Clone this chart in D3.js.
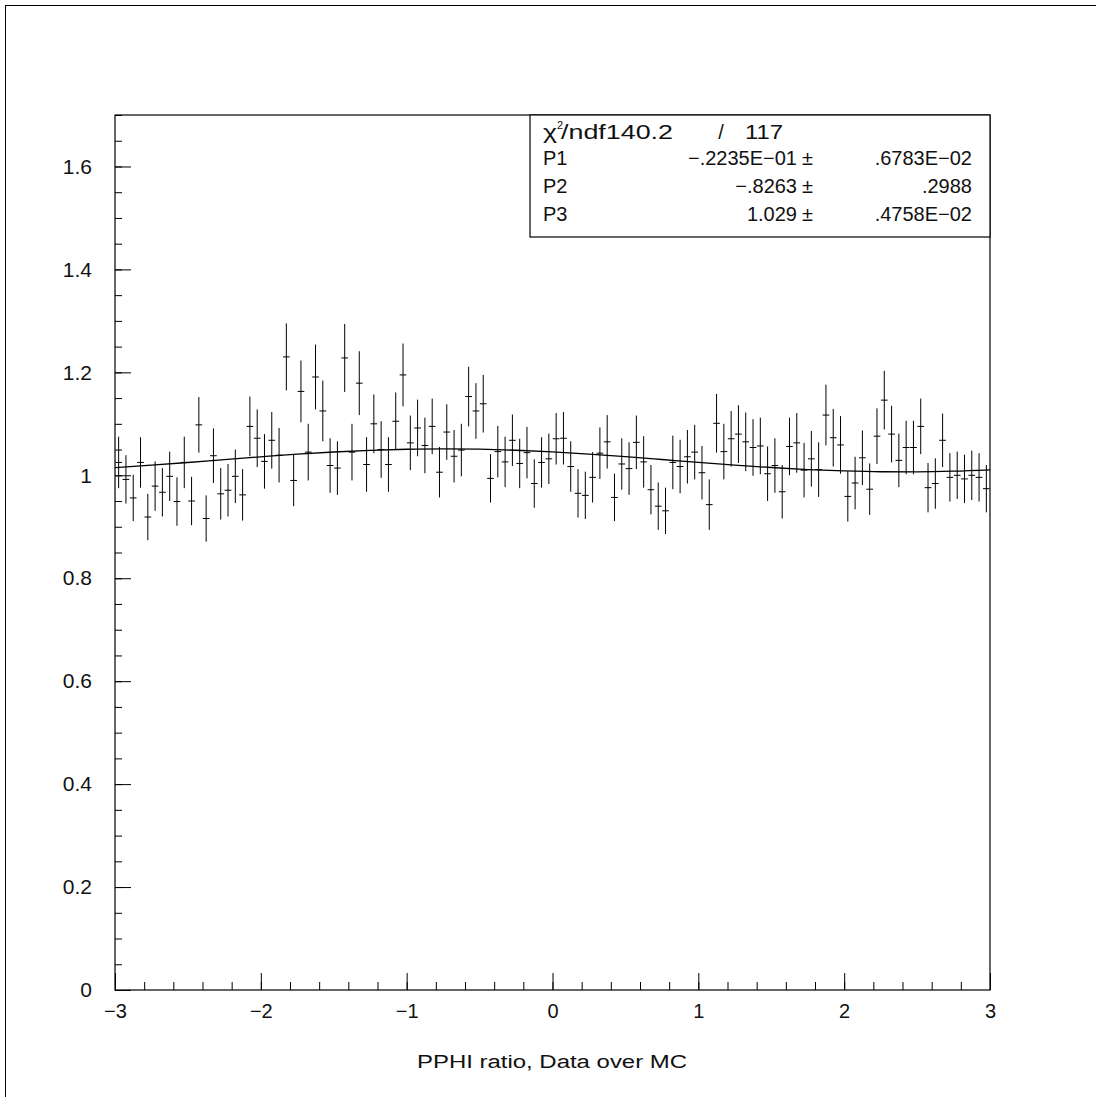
<!DOCTYPE html>
<html>
<head>
<meta charset="utf-8">
<script src="https://cdn.jsdelivr.net/npm/d3@7"></script>
<style>
  html, body { margin: 0; padding: 0; background: #fff; }
  svg { display: block; }
  text { font-family: "Liberation Sans", Arial, sans-serif; fill: #111; }
</style>
</head>
<body>
<svg id="chart" width="1096" height="1097"></svg>
<script>
// ---- Data ----
const xMin = -3, xMax = 3, nBins = 120;
const ratioValues = [
  1.025, 0.992, 0.956, 1.025, 0.919, 0.979, 0.967, 0.998, 0.949, 1.025,
  0.950, 1.098, 0.916, 1.038, 0.964, 0.971, 0.998, 0.962, 1.095, 1.072,
  1.027, 1.068, 1.039, 1.230, 0.990, 1.163, 1.045, 1.191, 1.125, 1.019,
  1.014, 1.228, 1.045, 1.179, 1.021, 1.100, 1.050, 1.021, 1.105, 1.195,
  1.063, 1.092, 1.058, 1.095, 1.006, 1.084, 1.037, 1.049, 1.153, 1.125,
  1.139, 0.994, 1.046, 1.026, 1.068, 1.023, 1.044, 0.984, 1.025, 1.032,
  1.071, 1.072, 1.017, 0.965, 0.961, 0.996, 1.043, 1.065, 0.957, 1.022,
  1.013, 1.064, 1.026, 0.972, 0.940, 0.931, 1.025, 1.017, 1.036, 1.045,
  1.005, 0.943, 1.101, 1.046, 1.071, 1.080, 1.065, 1.054, 1.057, 1.003,
  1.019, 0.968, 1.056, 1.063, 1.010, 1.032, 1.011, 1.117, 1.073, 1.059,
  0.959, 0.985, 1.034, 0.973, 1.076, 1.146, 1.080, 1.029, 1.054, 1.054,
  1.095, 0.976, 0.984, 1.068, 0.996, 1.000, 0.993, 1.000, 0.996, 0.974
];
const ratioErrors = [
  0.050, 0.047, 0.045, 0.049, 0.045, 0.048, 0.047, 0.048, 0.047, 0.050,
  0.047, 0.054, 0.045, 0.053, 0.050, 0.051, 0.052, 0.050, 0.058, 0.056,
  0.053, 0.055, 0.053, 0.065, 0.050, 0.060, 0.055, 0.063, 0.059, 0.053,
  0.052, 0.066, 0.055, 0.062, 0.053, 0.057, 0.055, 0.053, 0.056, 0.061,
  0.053, 0.055, 0.054, 0.054, 0.049, 0.054, 0.051, 0.051, 0.058, 0.054,
  0.056, 0.047, 0.050, 0.049, 0.050, 0.048, 0.050, 0.047, 0.049, 0.049,
  0.050, 0.051, 0.049, 0.047, 0.046, 0.049, 0.050, 0.052, 0.046, 0.050,
  0.051, 0.052, 0.050, 0.048, 0.046, 0.045, 0.052, 0.052, 0.052, 0.053,
  0.052, 0.049, 0.057, 0.054, 0.054, 0.056, 0.057, 0.055, 0.055, 0.053,
  0.053, 0.052, 0.056, 0.058, 0.053, 0.054, 0.053, 0.059, 0.056, 0.056,
  0.049, 0.051, 0.053, 0.050, 0.054, 0.057, 0.055, 0.052, 0.052, 0.052,
  0.054, 0.048, 0.049, 0.052, 0.047, 0.046, 0.047, 0.048, 0.047, 0.046
];
// Fit curve
const fitX = [-3, -2.75, -2.5, -2.25, -2, -1.75, -1.5, -1.25, -1, -0.75, -0.5, -0.25,
              0, 0.25, 0.5, 0.75, 1, 1.25, 1.5, 1.75, 2, 2.25, 2.5, 2.75, 3];
const fitY = [1.0149, 1.0196, 1.0249, 1.0305, 1.0359, 1.0410, 1.0453, 1.0486, 1.0506,
              1.0514, 1.0507, 1.0487, 1.0454, 1.0412, 1.0362, 1.0307, 1.0251, 1.0198,
              1.0151, 1.0112, 1.0084, 1.0069, 1.0068, 1.0080, 1.0106];
const xTickValues = [-3, -2, -1, 0, 1, 2, 3];
const xTickLabels = ["\u22123", "\u22122", "\u22121", "0", "1", "2", "3"];
const yTickValues = [0, 0.2, 0.4, 0.6, 0.8, 1.0, 1.2, 1.4, 1.6];
const yTickLabels = ["0", "0.2", "0.4", "0.6", "0.8", "1", "1.2", "1.4", "1.6"];
const statLabels = ["P1", "P2", "P3"];
const statValues = ["\u2212.2235E\u221201", "\u2212.8263", "1.029"];
const statErrors = [".6783E\u221202", ".2988", ".4758E\u221202"];
const chi2Text = "140.2", ndfText = "117";
const xTitle = "PPHI ratio, Data over MC";

// ---- Layout ----
const svg = d3.select("#chart");
const L = 115, R = 990, T = 115, B = 990;
const x = d3.scaleLinear().domain([xMin, xMax]).range([L, R]);
const y = d3.scaleLinear().domain([0, 1.7]).range([B, T]);

// outer page frame (only left/top visible)
svg.append("rect").attr("x", 5.5).attr("y", 5.5).attr("width", 1100).attr("height", 1100)
  .attr("fill", "none").attr("stroke", "#000").attr("stroke-width", 1);

// plot frame
svg.append("rect").attr("x", L).attr("y", T).attr("width", R - L).attr("height", B - T)
  .attr("fill", "none").attr("stroke", "#000").attr("stroke-width", 1.2);

// X axis: minor + major ticks, inward
const xMinor = d3.range(xMin, xMax + 1e-9, 0.2);
svg.append("g").attr("transform", `translate(0,${B})`)
  .call(d3.axisBottom(x).tickValues(xMinor).tickSize(-8).tickFormat(""))
  .call(g => g.select(".domain").remove())
  .call(g => g.selectAll("line").attr("stroke", "#000"));
svg.append("g").attr("transform", `translate(0,${B})`)
  .call(d3.axisBottom(x).tickValues(xTickValues).tickSize(-17).tickPadding(14)
        .tickFormat((d, i) => xTickLabels[i]))
  .call(g => g.select(".domain").remove())
  .call(g => g.selectAll("line").attr("stroke", "#000"))
  .call(g => g.selectAll("text").attr("font-size", 20).attr("fill", "#111")
        .attr("font-family", "Liberation Sans, Arial, sans-serif"));

// Y axis
const yMinor = d3.range(0, 1.7 + 1e-9, 0.05);
svg.append("g").attr("transform", `translate(${L},0)`)
  .call(d3.axisLeft(y).tickValues(yMinor).tickSize(-7).tickFormat(""))
  .call(g => g.select(".domain").remove())
  .call(g => g.selectAll("line").attr("stroke", "#000"));
svg.append("g").attr("transform", `translate(${L},0)`)
  .call(d3.axisLeft(y).tickValues(yTickValues).tickSize(-16).tickPadding(23)
        .tickFormat((d, i) => yTickLabels[i]))
  .call(g => g.select(".domain").remove())
  .call(g => g.selectAll("line").attr("stroke", "#000"))
  .call(g => g.selectAll("text").attr("font-size", 21).attr("fill", "#111")
        .attr("font-family", "Liberation Sans, Arial, sans-serif"));

// X title
svg.append("text").attr("x", 552).attr("y", 1068).attr("text-anchor", "middle")
  .attr("font-size", 18).attr("textLength", 270).attr("lengthAdjust", "spacingAndGlyphs")
  .text(xTitle);

// ---- Data points with error bars ----
const binW = (xMax - xMin) / nBins;
const pts = ratioValues.map((v, i) => ({
  lo: xMin + i * binW, hi: xMin + (i + 1) * binW, c: xMin + (i + 0.5) * binW,
  v, e: ratioErrors[i]
}));
const gp = svg.append("g").attr("stroke", "#000").attr("stroke-width", 1);
gp.selectAll("line.ev").data(pts).join("line").attr("class", "ev")
  .attr("x1", d => x(d.c)).attr("x2", d => x(d.c))
  .attr("y1", d => y(d.v - d.e)).attr("y2", d => y(d.v + d.e));
gp.selectAll("line.eh").data(pts).join("line").attr("class", "eh")
  .attr("x1", d => x(d.lo) + 0.3).attr("x2", d => x(d.hi) - 0.3)
  .attr("y1", d => y(d.v)).attr("y2", d => y(d.v));

// ---- Fit curve ----
const fitPts = fitX.map((xv, i) => [xv, fitY[i]]);
svg.append("path").datum(fitPts)
  .attr("fill", "none").attr("stroke", "#000").attr("stroke-width", 1.3)
  .attr("d", d3.line().x(d => x(d[0])).y(d => y(d[1])).curve(d3.curveMonotoneX));

// ---- Stats box ----
const bx = 530, by = T, bw = R - 530, bh = 237 - T;
svg.append("rect").attr("x", bx).attr("y", by).attr("width", bw).attr("height", bh)
  .attr("fill", "#fff").attr("stroke", "#000").attr("stroke-width", 1.2);
const fs = 20;
svg.append("text").attr("x", 543).attr("y", 139).attr("font-size", fs)
  .attr("textLength", 14).attr("lengthAdjust", "spacingAndGlyphs").text("\u03c7");
svg.append("text").attr("x", 557).attr("y", 129).attr("font-size", 11).text("2");
svg.append("text").attr("x", 561).attr("y", 139).attr("font-size", fs)
  .attr("textLength", 112).attr("lengthAdjust", "spacingAndGlyphs").text("/ndf" + chi2Text);
svg.append("text").attr("x", 721).attr("y", 139).attr("font-size", fs).attr("text-anchor", "middle").text("/");
svg.append("text").attr("x", 745).attr("y", 139).attr("font-size", fs)
  .attr("textLength", 38).attr("lengthAdjust", "spacingAndGlyphs").text(ndfText);
const rowY = [165, 193, 221];
statLabels.forEach((lab, i) => {
  svg.append("text").attr("x", 543).attr("y", rowY[i]).attr("font-size", fs).text(lab);
  svg.append("text").attr("x", 797).attr("y", rowY[i]).attr("font-size", fs)
    .attr("text-anchor", "end").text(statValues[i]);
  svg.append("text").attr("x", 802).attr("y", rowY[i]).attr("font-size", fs).text("\u00b1");
  svg.append("text").attr("x", 972).attr("y", rowY[i]).attr("font-size", fs)
    .attr("text-anchor", "end").text(statErrors[i]);
});
</script>
</body>
</html>
